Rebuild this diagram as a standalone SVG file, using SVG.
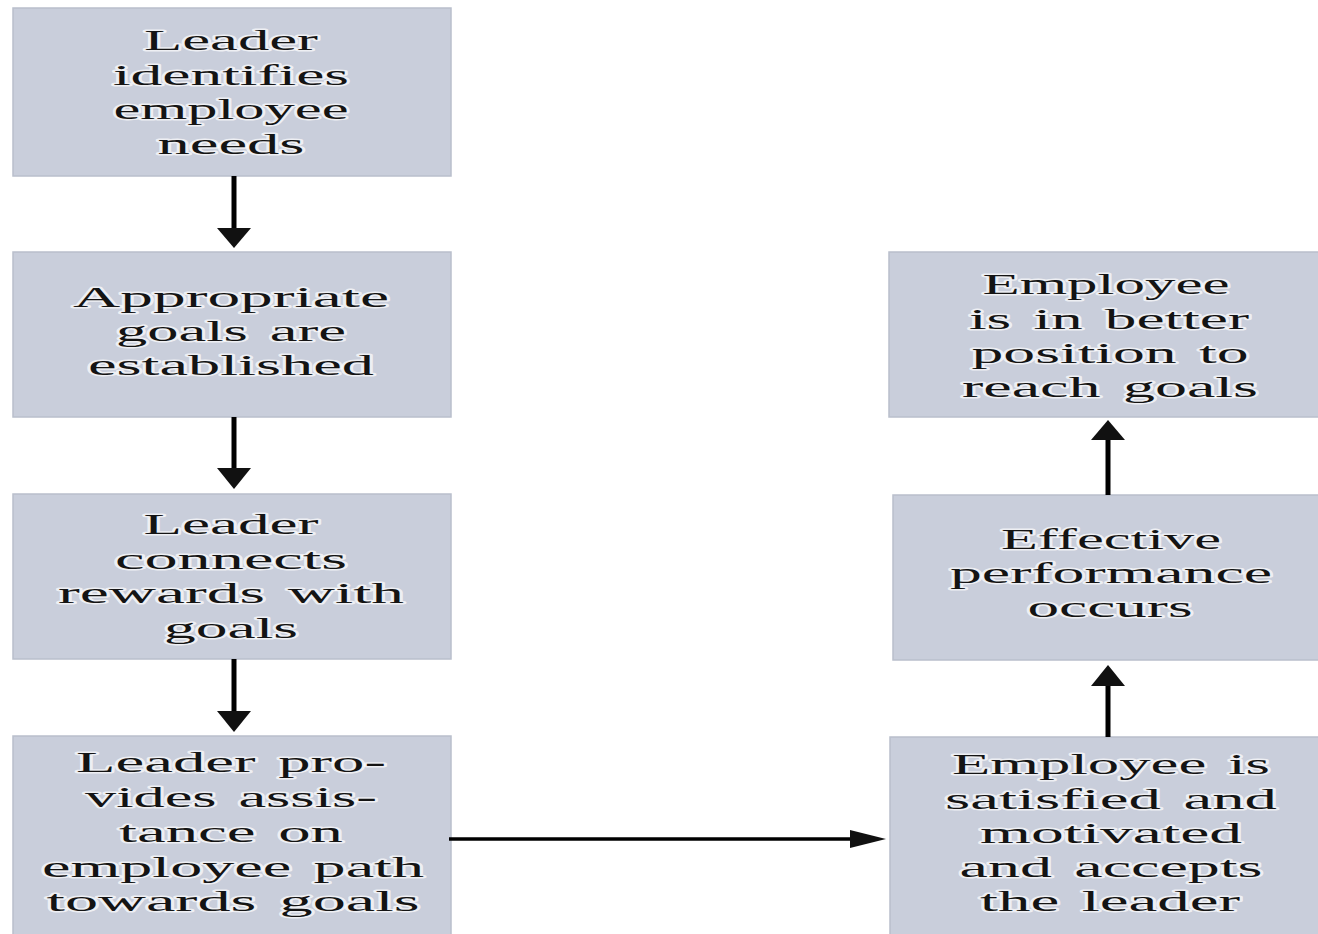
<svg xmlns="http://www.w3.org/2000/svg" width="1318" height="934" viewBox="0 0 1318 934">
<defs>
<style>
.box{fill:#c9cedb;stroke:#b9bfcc;stroke-width:1.5}
.t{font-family:"Liberation Serif","Times New Roman",serif;font-size:30px;fill:#141414;text-anchor:middle;word-spacing:3px;stroke:#ffffff;stroke-width:3;stroke-opacity:0.7;stroke-linejoin:round;paint-order:stroke}
.v{stroke:#000;stroke-width:5;fill:none}
.h{stroke:#000;stroke-width:3.5;fill:none}
.head{fill:#111;stroke:none}
</style>
</defs>
<rect width="1318" height="934" fill="#ffffff"/>
<g id="n1">
<rect class="box" x="13" y="8" width="438" height="168"/>
<text class="t" x="231" y="50" textLength="174" lengthAdjust="spacingAndGlyphs">Leader</text>
<text class="t" x="231" y="85" textLength="236" lengthAdjust="spacingAndGlyphs">identifies</text>
<text class="t" x="231" y="119" textLength="235" lengthAdjust="spacingAndGlyphs">employee</text>
<text class="t" x="231" y="154" textLength="147" lengthAdjust="spacingAndGlyphs">needs</text>
</g>
<g id="n2">
<rect class="box" x="13" y="252" width="438" height="165"/>
<text class="t" x="231" y="307" textLength="316" lengthAdjust="spacingAndGlyphs">Appropriate</text>
<text class="t" x="231" y="341" textLength="230" lengthAdjust="spacingAndGlyphs">goals are</text>
<text class="t" x="231" y="375" textLength="286" lengthAdjust="spacingAndGlyphs">established</text>
</g>
<g id="n3">
<rect class="box" x="13" y="494" width="438" height="165"/>
<text class="t" x="231" y="534" textLength="175" lengthAdjust="spacingAndGlyphs">Leader</text>
<text class="t" x="231" y="569" textLength="232" lengthAdjust="spacingAndGlyphs">connects</text>
<text class="t" x="231" y="603" textLength="346" lengthAdjust="spacingAndGlyphs">rewards with</text>
<text class="t" x="231" y="638" textLength="134" lengthAdjust="spacingAndGlyphs">goals</text>
</g>
<g id="n4">
<rect class="box" x="13" y="736" width="438" height="210"/>
<text class="t" x="231" y="772" textLength="310" lengthAdjust="spacingAndGlyphs">Leader pro-</text>
<text class="t" x="231" y="807" textLength="292" lengthAdjust="spacingAndGlyphs">vides assis-</text>
<text class="t" x="231" y="842" textLength="224" lengthAdjust="spacingAndGlyphs">tance on</text>
<text class="t" x="233" y="877" textLength="382" lengthAdjust="spacingAndGlyphs">employee path</text>
<text class="t" x="233" y="911" textLength="373" lengthAdjust="spacingAndGlyphs">towards goals</text>
</g>
<g id="n5">
<rect class="box" x="889" y="252" width="440" height="165"/>
<text class="t" x="1106" y="294" textLength="247" lengthAdjust="spacingAndGlyphs">Employee</text>
<text class="t" x="1109" y="329" textLength="280" lengthAdjust="spacingAndGlyphs">is in better</text>
<text class="t" x="1110" y="363" textLength="277" lengthAdjust="spacingAndGlyphs">position to</text>
<text class="t" x="1110" y="397" textLength="296" lengthAdjust="spacingAndGlyphs">reach goals</text>
</g>
<g id="n6">
<rect class="box" x="893" y="495" width="436" height="165"/>
<text class="t" x="1111" y="549" textLength="220" lengthAdjust="spacingAndGlyphs">Effective</text>
<text class="t" x="1111" y="583" textLength="322" lengthAdjust="spacingAndGlyphs">performance</text>
<text class="t" x="1110" y="617" textLength="165" lengthAdjust="spacingAndGlyphs">occurs</text>
</g>
<g id="n7">
<rect class="box" x="890" y="737" width="440" height="210"/>
<text class="t" x="1111" y="774" textLength="318" lengthAdjust="spacingAndGlyphs">Employee is</text>
<text class="t" x="1111" y="809" textLength="332" lengthAdjust="spacingAndGlyphs">satisfied and</text>
<text class="t" x="1111" y="843" textLength="262" lengthAdjust="spacingAndGlyphs">motivated</text>
<text class="t" x="1111" y="877" textLength="303" lengthAdjust="spacingAndGlyphs">and accepts</text>
<text class="t" x="1110" y="911" textLength="260" lengthAdjust="spacingAndGlyphs">the leader</text>
</g>
<g id="connectors">
<line class="v" x1="234" y1="176" x2="234" y2="230"/>
<polygon class="head" points="217,228 251,228 234,248"/>
<line class="v" x1="234" y1="417" x2="234" y2="470"/>
<polygon class="head" points="217,468 251,468 234,489"/>
<line class="v" x1="234" y1="659" x2="234" y2="713"/>
<polygon class="head" points="217,711 251,711 234,732"/>
<line class="h" x1="449" y1="839" x2="852" y2="839"/>
<polygon class="head" points="850,830 886,839 850,848"/>
<line class="v" x1="1108" y1="495" x2="1108" y2="438"/>
<polygon class="head" points="1091,440 1125,440 1108,420"/>
<line class="v" x1="1108" y1="737" x2="1108" y2="683"/>
<polygon class="head" points="1091,686 1125,686 1108,665"/>
</g>
</svg>
